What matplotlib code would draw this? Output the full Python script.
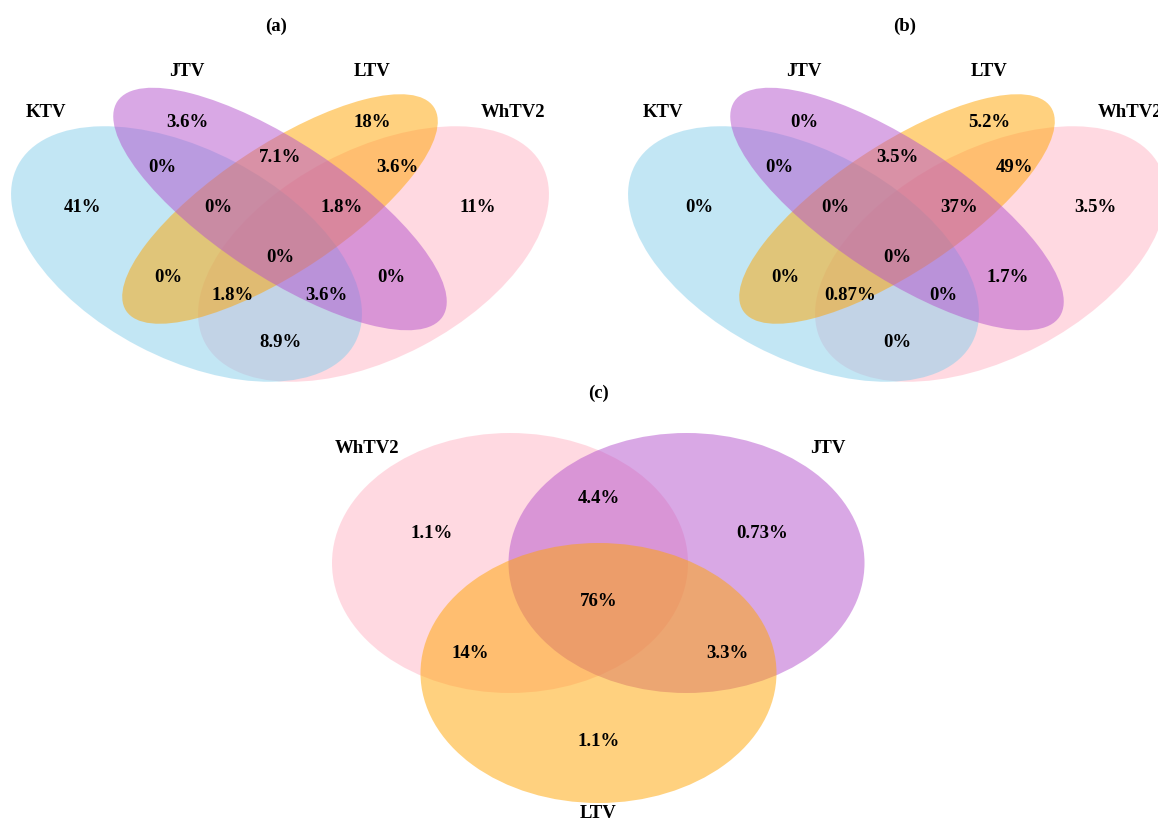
import matplotlib
matplotlib.use("Agg")
import matplotlib.pyplot as plt
from matplotlib.patches import Ellipse

# 字体: Times New Roman 的替代
plt.rcParams['font.family'] = ['Liberation Serif', 'DejaVu Serif']
plt.rcParams['font.weight'] = 'bold'

# 数据
quad_sets = ["KTV", "JTV", "LTV", "WhTV2"]
# 区域顺序: J, L, KJ, JL, LW, K, KJL, JLW, W, KJLW, KL, KLW, KJW, JW, KW
pct_a = [3.6, 18, 0, 7.1, 3.6, 41, 0, 1.8, 11, 0, 0, 1.8, 3.6, 0, 8.9]
pct_b = [0, 5.2, 0, 3.5, 49, 0, 0, 37, 3.5, 0, 0, 0.87, 0, 1.7, 0]

tri_sets = ["WhTV2", "JTV", "LTV"]
# 区域顺序: WJ, W, J, WJL, WL, JL, L
pct_c = [4.4, 1.1, 0.73, 76, 14, 3.3, 1.1]

panel_titles = ["(a)", "(b)", "(c)"]

# 颜色 (alpha 0.5)
col = {"KTV": "skyblue", "JTV": "#B452CD", "LTV": "orange", "WhTV2": "#FFB5C5"}

# 版式 (像素坐标, 相对于面板中心)
quad_ell = {  # dx, cy, width, height, angle
    "KTV": (-93.5, 254, 381, 208, 27.7),
    "JTV": (0, 209, 390, 134, 33.5),
    "LTV": (0, 209, 369, 127, -33.5),
    "WhTV2": (93.5, 254, 381, 208, -27.7),
}
quad_draw_order = ["WhTV2", "KTV", "LTV", "JTV"]
quad_txt = [(-93, 122), (92, 122), (-118, 167), (0, 157), (117, 167),
            (-198, 207), (-62, 207), (62, 207), (198, 207), (0, 257),
            (-112, 278), (-47, 295), (46, 295), (111, 278), (0, 342)]
quad_lab = [(-234, 112), (-93, 71), (92, 71), (233, 112)]

tri_ell = {"WhTV2": (510, 563), "JTV": (686.5, 563), "LTV": (598.5, 673)}
tri_draw_order = ["WhTV2", "JTV", "LTV"]
tri_txt = [(598.5, 498), (432, 533), (762, 533), (598.5, 602),
           (470, 653), (727, 653), (598.5, 742)]
tri_lab = [(367, 448), (828, 448), (598.5, 813)]

fs = 13.5


def fmt(v):
    return "{:g}%".format(v)


fig = plt.figure(figsize=(11.58, 8.23), dpi=100)
ax = fig.add_axes([0, 0, 1, 1])
ax.set_xlim(0, 1158)
ax.set_ylim(823, 0)
ax.axis('off')

# (a) 和 (b): 四元 Venn 图
for cx, pct, title, tx in [(280, pct_a, panel_titles[0], 276),
                           (897, pct_b, panel_titles[1], 905)]:
    for name in quad_draw_order:
        dx, cy, w, h, ang = quad_ell[name]
        ax.add_patch(Ellipse((cx + dx, cy), w, h, angle=ang,
                             facecolor=col[name], alpha=0.5, lw=0))
    for (dx, y), v in zip(quad_txt, pct):
        ax.text(cx + dx, y, fmt(v), ha='center', va='center', fontsize=fs)
    for (dx, y), name in zip(quad_lab, quad_sets):
        ax.text(cx + dx, y, name, ha='center', va='center', fontsize=fs)
    ax.text(tx, 26, title, ha='center', va='center', fontsize=fs)

# (c): 三元 Venn 图
for name in tri_draw_order:
    ax.add_patch(Ellipse(tri_ell[name], 356, 260,
                         facecolor=col[name], alpha=0.5, lw=0))
for (x, y), v in zip(tri_txt, pct_c):
    ax.text(x, y, fmt(v), ha='center', va='center', fontsize=fs)
for (x, y), name in zip(tri_lab, tri_sets):
    ax.text(x, y, name, ha='center', va='center', fontsize=fs)
ax.text(598.5, 393, panel_titles[2], ha='center', va='center', fontsize=fs)

fig.savefig("out.png", dpi=100, facecolor='white')
